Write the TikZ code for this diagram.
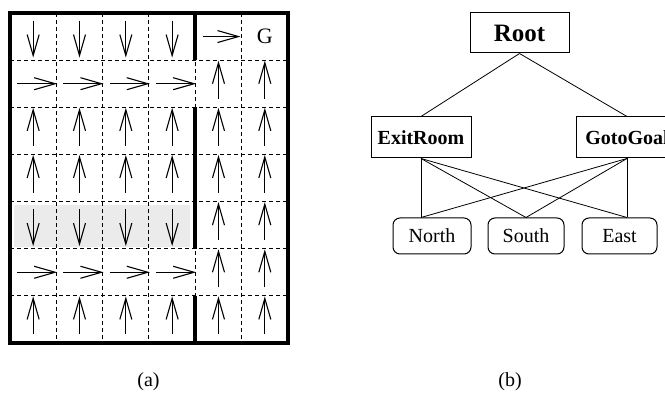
\documentclass[tikz,border=0pt]{standalone}
\usepackage{fontspec}
\setmainfont{Liberation Serif}
\usetikzlibrary{arrows.meta}

\begin{document}
\begin{tikzpicture}[
    x=1pt, y=-1pt,
    gridline/.style={black, line width=1pt, dash pattern=on 4pt off 3pt},
    wall/.style={black, line width=4pt},
    policy/.style={black, line width=1.1pt, -{Straight Barb[length=21pt, width=12pt]}},
    taskbox/.style={draw, line width=1pt, inner sep=0pt, minimum height=41pt},
    actbox/.style={draw, line width=1pt, rounded corners=7pt, inner sep=0pt,
        minimum height=36pt, font=\fontsize{20}{22}\selectfont},
    link/.style={black, line width=0.8pt}
]
\path[use as bounding box] (0,0) rectangle (665,395);
\clip (0,0) rectangle (665,395);

% --- (a) Gitterwelt ---
\def\cw{46.33}
\def\ch{47.14}
% schattierte Zeile
\fill[black!8] (14,205) rectangle (190,247);

% gestrichelte Zellgrenzen
\foreach \c in {1,...,5}
    \draw[gridline] ({10+\c*\cw},13) -- ({10+\c*\cw},343);
\foreach \r in {1,...,6}
    \draw[gridline] (10,{13+\r*\ch}) -- (288,{13+\r*\ch});

% Waende
\draw[wall] (10,13) rectangle (288,343);
\draw[wall] ({10+4*\cw},13) -- ({10+4*\cw},{13+\ch});
\draw[wall] ({10+4*\cw},{13+2*\ch}) -- ({10+4*\cw},{13+5*\ch});
\draw[wall] ({10+4*\cw},{13+6*\ch}) -- ({10+4*\cw},343);

% --- Policy-Pfeile ---
% nach oben
\foreach \r in {3,4,7}
    \foreach \c in {1,...,6}
        \draw[policy] ({10+(\c-0.5)*\cw},{13+(\r-0.5)*\ch+15}) -- ++(0,-38);
\foreach \r in {2,5,6}
    \foreach \c in {5,6}
        \draw[policy] ({10+(\c-0.5)*\cw},{13+(\r-0.5)*\ch+15}) -- ++(0,-38);
% nach unten
\foreach \r in {1,5}
    \foreach \c in {1,...,4}
        \draw[policy] ({10+(\c-0.5)*\cw},{13+(\r-0.5)*\ch-16}) -- ++(0,37);
% nach rechts
\foreach \r in {2,6}
    \foreach \c in {1,...,4}
        \draw[policy] ({10+(\c-0.5)*\cw-16},{13+(\r-0.5)*\ch}) -- ++(40,0);
\draw[policy] ({10+4.5*\cw-15},{13+0.5*\ch}) -- ++(37,0);

% Ziel
\node[font=\fontsize{22}{24}\selectfont, inner sep=0pt] (goal)
    at ({10+5.5*\cw},{13+0.5*\ch}) {G};

% --- (b) Task-Hierarchie ---
\node[taskbox, minimum width=99pt, minimum height=40pt,
    font=\fontsize{25}{27}\selectfont\bfseries] (root) at (519.5,33) {Root};
\node[taskbox, minimum width=100pt, font=\fontsize{20}{22}\selectfont\bfseries]
    (exitroom) at (421,137.5) {ExitRoom};
\node[taskbox, minimum width=102pt, font=\fontsize{20}{22}\selectfont\bfseries]
    (gotogoal) at (627,137.5) {GotoGoal};

\node[actbox, minimum width=78pt] (north) at (432,236) {North};
\node[actbox, minimum width=76pt] (south) at (526,236) {South};
\node[actbox, minimum width=75pt] (east)  at (619.5,236) {East};

% Andockpunkte
\coordinate (north_in) at (exitroom.south |- north.north);
\coordinate (east_in)  at (gotogoal.south |- east.north);

\draw[link] (root.south) -- (exitroom.north);
\draw[link] (root.south) -- (gotogoal.north);
\draw[link] (exitroom.south) -- (north_in);
\draw[link] (exitroom.south) -- (south.north);
\draw[link] (exitroom.south) -- (east_in);
\draw[link] (gotogoal.south) -- (north_in);
\draw[link] (gotogoal.south) -- (south.north);
\draw[link] (gotogoal.south) -- (east_in);

% --- Unterschriften ---
\node[font=\fontsize{20}{22}\selectfont] (cap_a) at (148.5,382) {(a)};
\node[font=\fontsize{20}{22}\selectfont] (cap_b) at (510,382) {(b)};

\end{tikzpicture}
\end{document}
